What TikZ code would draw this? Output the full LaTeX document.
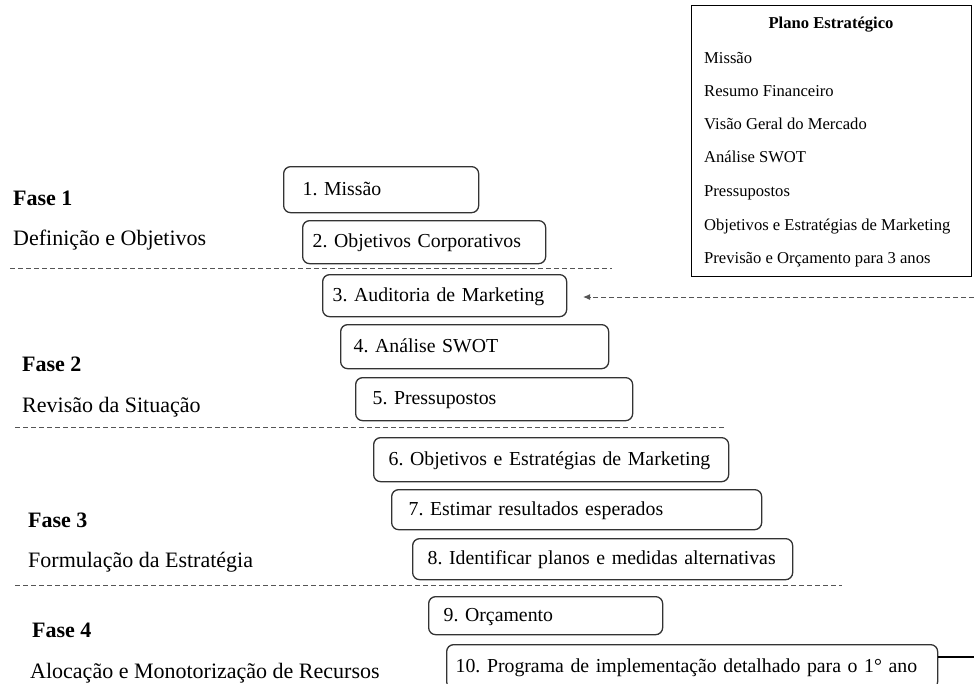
\documentclass[tikz,border=0pt]{standalone}
\usepackage{fontspec}
\setmainfont{Liberation Serif}
\usetikzlibrary{arrows.meta}
\newcommand\bxfont{\fontsize{19.8}{24}\selectfont}
\newcommand\lblfont{\fontsize{22}{26}\selectfont}
\newcommand\plfont{\fontsize{16.6}{20}\selectfont}
\definecolor{edge}{HTML}{333333}
\definecolor{dash}{HTML}{555555}
\tikzset{
  stepbox/.style={draw=edge, line width=1.3pt, rounded corners=7pt, anchor=north west,
    align=left, inner ysep=0pt, text height=15pt, text depth=4pt, font=\bxfont},
  phaselbl/.style={anchor=base west, inner sep=0pt, font=\lblfont},
  phasehead/.style={anchor=base west, inner sep=0pt, font=\lblfont\bfseries},
  plitem/.style={anchor=base west, inner sep=0pt, font=\plfont},
  divider/.style={draw=dash, line width=1pt, dash pattern=on 5pt off 3pt},
}
\begin{document}
\frenchspacing
\begin{tikzpicture}[x=1pt,y=-1pt]
\useasboundingbox (0,0) rectangle (974,683);
\clip (0,0) rectangle (974,683);

% phase labels
\node[phasehead] (f1) at (13,205) {Fase 1};
\node[phaselbl]  (d1) at (13,245) {Definição e Objetivos};
\node[phasehead] (f2) at (22,371) {Fase 2};
\node[phaselbl]  (d2) at (22,412) {Revisão da Situação};
\node[phasehead] (f3) at (28,527) {Fase 3};
\node[phaselbl]  (d3) at (28,567) {Formulação da Estratégia};
\node[phasehead] (f4) at (32,637) {Fase 4};
\node[phaselbl]  (d4) at (30,678) {Alocação e Monotorização de Recursos};

% dividers
\coordinate (l1a) at (10,268);  \coordinate (l1b) at (612,268);
\coordinate (l2a) at (15,427);  \coordinate (l2b) at (725,427);
\coordinate (l3a) at (15,585);  \coordinate (l3b) at (842,585);
\draw[divider] (l1a) -- (l1b);
\draw[divider] (l2a) -- (l2b);
\draw[divider] (l3a) -- (l3b);

% steps
\node[stepbox, minimum height=46pt, inner xsep=19pt, text width=157pt] (b1) at (283,166) {\mbox{1. Missão}};
\node[stepbox, minimum height=43pt, inner xsep=10pt, text width=223pt] (b2) at (302,220) {\mbox{2. Objetivos Corporativos}};
\node[stepbox, minimum height=42pt, inner xsep=10pt, text width=224pt] (b3) at (322,274) {\mbox{3. Auditoria de Marketing}};
\node[stepbox, minimum height=44pt, inner xsep=13pt, text width=242pt] (b4) at (340,324) {\mbox{4. Análise SWOT}};
\node[stepbox, minimum height=43pt, inner xsep=17pt, text width=243pt] (b5) at (355,377) {\mbox{5. Pressupostos}};
\node[stepbox, minimum height=44pt, inner xsep=15pt, text width=325pt] (b6) at (373,437) {\mbox{6. Objetivos e Estratégias de Marketing}};
\node[stepbox, minimum height=40pt, inner xsep=17pt, text width=336pt] (b7) at (391,489) {\mbox{7. Estimar resultados esperados}};
\node[stepbox, minimum height=41pt, inner xsep=15pt, text width=350pt] (b8) at (412,538) {\mbox{8. Identificar planos e medidas alternativas}};
\node[stepbox, minimum height=38pt, inner xsep=15pt, text width=204pt] (b9) at (428,596) {\mbox{9. Orçamento}};
\node[stepbox, minimum height=44pt, inner xsep=9pt, text width=473pt] (b10) at (446,644) {\mbox{10. Programa de implementação detalhado para o 1° ano}};

% strategic plan box
\node[draw=black, line width=1.2pt, minimum width=280pt, minimum height=271pt, anchor=north west, inner sep=0pt] (plano) at (691,5) {};
\node[anchor=base, inner sep=0pt, font=\plfont\bfseries] (pt) at (831,28) {Plano Estratégico};
\node[plitem] (p1) at (704,63)  {Missão};
\node[plitem] (p2) at (704,96)  {Resumo Financeiro};
\node[plitem] (p3) at (704,129) {Visão Geral do Mercado};
\node[plitem] (p4) at (704,162) {Análise SWOT};
\node[plitem] (p5) at (704,196) {Pressupostos};
\node[plitem] (p6) at (704,230) {Objetivos e Estratégias de Marketing};
\node[plitem] (p7) at (704,263) {Previsão e Orçamento para 3 anos};

% connectors
\coordinate (fbIn) at (974,297);
\coordinate (fbTip) at (583,297);
\draw[divider, -{Latex[length=7pt,width=6pt]}] (fbIn) -- (fbTip);
\coordinate (outR) at (974,657);
\draw[draw=black, line width=1.8pt] (b10.east |- outR) -- (outR);
\end{tikzpicture}
\end{document}
